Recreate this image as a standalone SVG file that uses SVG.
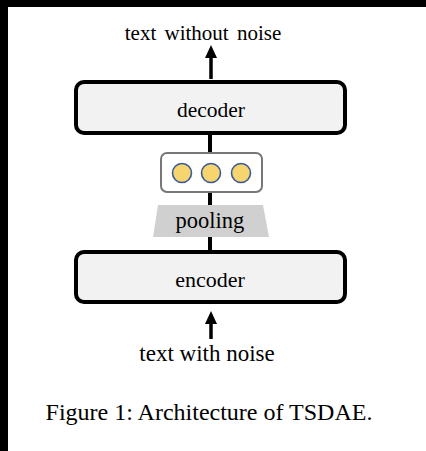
<svg xmlns="http://www.w3.org/2000/svg" width="426" height="451" viewBox="0 0 426 451">
  <style>
    .lbl { font-family: "Liberation Serif", "Times New Roman", serif; fill: #000; text-anchor: middle; }
    .block { fill: #f2f2f2; stroke: #000; stroke-width: 4; }
    .wire { stroke: #000; stroke-width: 4; fill: none; }
    .shaft { stroke: #000; stroke-width: 3.5; fill: none; }
    .tok { fill: #f7d56e; stroke: #3b5998; stroke-width: 1.6; }
  </style>

  <!-- page background and frame edges -->
  <rect x="0" y="0" width="426" height="451" fill="#fff"/>
  <rect x="0" y="0" width="426" height="7" fill="#000"/>
  <rect x="0" y="0" width="8" height="451" fill="#000"/>

  <!-- connectors -->
  <g id="connectors">
    <line class="wire" x1="210" y1="134" x2="210" y2="154"/>
    <line class="wire" x1="210" y1="191" x2="210" y2="206"/>
    <line class="wire" x1="210" y1="236" x2="210" y2="251"/>
    <!-- output arrow -->
    <line class="shaft" x1="211" y1="79" x2="211" y2="55"/>
    <polygon points="211,45 205,58 217,58" fill="#000"/>
    <!-- input arrow -->
    <line class="shaft" x1="211" y1="339" x2="211" y2="322"/>
    <polygon points="211,311 205,324 217,324" fill="#000"/>
  </g>

  <g id="output-text">
    <text class="lbl" x="203" y="40" font-size="21" word-spacing="3">text without noise</text>
  </g>

  <g id="decoder">
    <rect class="block" x="76" y="82" width="269" height="51" rx="8"/>
    <text class="lbl" x="211" y="117" font-size="21.5">decoder</text>
  </g>

  <g id="embedding">
    <rect x="161" y="153" width="101" height="39" rx="6" fill="#fff" stroke="#777" stroke-width="2"/>
    <circle class="tok" cx="182" cy="173" r="9.5"/>
    <circle class="tok" cx="211" cy="173" r="9.5"/>
    <circle class="tok" cx="241" cy="173" r="9.5"/>
  </g>

  <g id="pooling">
    <polygon points="158,205 263,205 269,237 153,237" fill="#d0d0d0"/>
    <text class="lbl" x="210" y="228" font-size="22.5">pooling</text>
  </g>

  <g id="encoder">
    <rect class="block" x="76" y="252" width="269" height="50" rx="8"/>
    <text class="lbl" x="210" y="287" font-size="22">encoder</text>
  </g>

  <g id="input-text">
    <text class="lbl" x="207" y="361" font-size="23">text with noise</text>
  </g>

  <text class="lbl" x="209" y="420" font-size="24">Figure 1: Architecture of TSDAE.</text>
</svg>
